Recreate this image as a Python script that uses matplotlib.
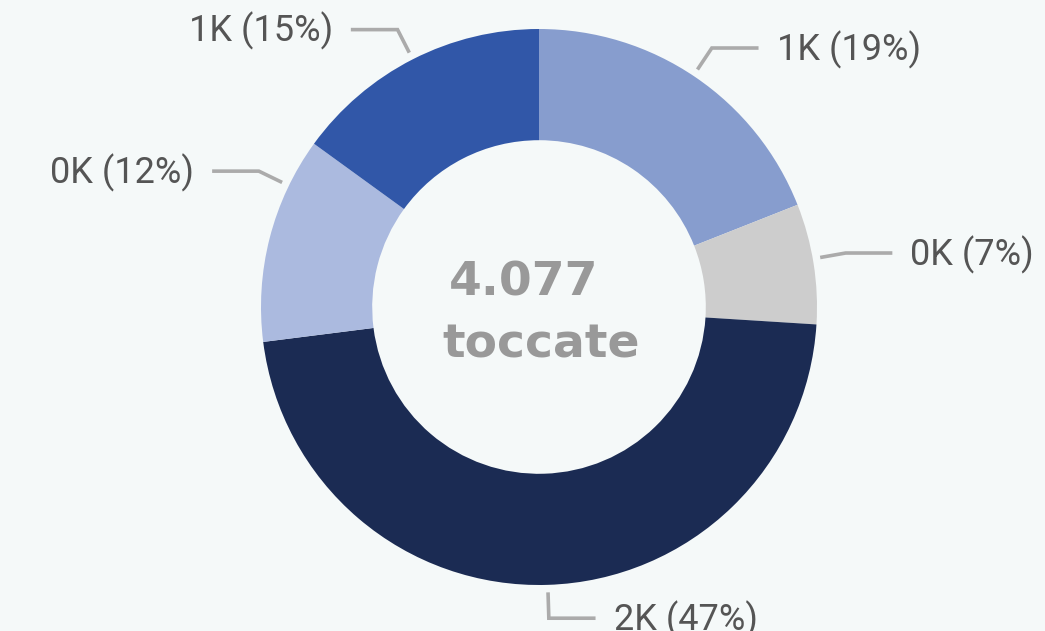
import matplotlib
matplotlib.use("Agg")
import matplotlib.pyplot as plt
import numpy as np

# Data
categories = ["A", "B", "C", "D", "E"]
values = [775, 285, 1916, 489, 612]
total_label = "4.077"
unit_label = "toccate"
colors = ["#879DCE", "#CDCDCD", "#1B2B53", "#ABBADF", "#3157A8"]
# small angular nudges for label leader lines (degrees)
label_angle_adjust = [0.5, 1.0, 0.0, -11.5, 0.0]

BG = "#F5F9F9"
W, H, DPI = 1045, 631, 100
fig = plt.figure(figsize=(W / DPI, H / DPI), dpi=DPI, facecolor=BG)
ax = fig.add_axes([0, 0, 1, 1])
ax.set_facecolor(BG)

R_PX = 278.0
cx, cy = 539.0, 307.0

wedges, _ = ax.pie(values, colors=colors, startangle=90, counterclock=False,
                   radius=1.0, wedgeprops=dict(width=0.4, edgecolor="none"),
                   frame=True)
ax.set_xlim(-cx / R_PX, (W - cx) / R_PX)
ax.set_ylim(-(H - cy) / R_PX, cy / R_PX)
ax.set_aspect("auto")
ax.axis("off")

total = sum(values)
for w, v, adj in zip(wedges, values, label_angle_adjust):
    mid = (w.theta1 + w.theta2) / 2.0 + adj
    a = np.deg2rad(mid)
    r0, r1 = 1.027, 1.12
    x0, y0 = r0 * np.cos(a), r0 * np.sin(a)
    x1, y1 = r1 * np.cos(a), r1 * np.sin(a)
    side = 1 if np.cos(a) >= -0.01 else -1
    x2 = x1 + side * 0.168
    ax.plot([x0, x1, x2], [y0, y1, y1], color="#ABABAB", lw=2.6,
            solid_capstyle="butt", solid_joinstyle="miter", zorder=3)
    pct = round(v / total * 100)
    txt = f"{round(v / 1000)}K ({pct}%)"
    ax.text(x2 + side * 0.065, y1 - 0.005, txt, ha="left" if side > 0 else "right",
            va="center", fontsize=26, color="#555555", family="Roboto")

ax.text(-0.054, 0.043, total_label, ha="center", va="baseline", fontsize=34,
        fontweight="bold", color="#999999", family="DejaVu Sans")
ax.text(0.009, -0.180, unit_label, ha="center", va="baseline", fontsize=34,
        fontweight="bold", color="#999999", family="DejaVu Sans")

fig.savefig("out.png", dpi=DPI, facecolor=BG)
